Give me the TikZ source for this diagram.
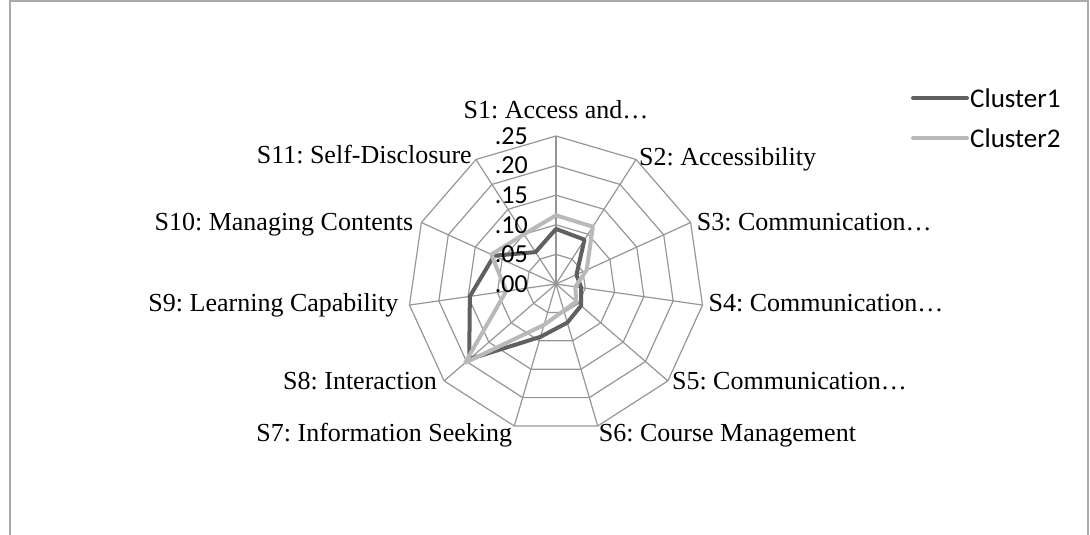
\documentclass[tikz,border=0pt]{standalone}
\usepackage{fontspec}
\setmainfont{Liberation Serif}
\newfontfamily\calibri{Carlito}
\usetikzlibrary{positioning}
\frenchspacing
\definecolor{gridGrey}{RGB}{150,150,150}
\definecolor{frameGrey}{RGB}{170,170,170}
\definecolor{darkClust}{RGB}{96,96,96}
\definecolor{lightClust}{RGB}{185,185,185}
\tikzstyle{gridLine} = [draw=gridGrey, line width=1.2pt]
\tikzstyle{tAxis} = [font=\fontsize{26}{30}\selectfont, inner sep=0pt, text height=17pt, text depth=5pt]
\tikzstyle{tTick} = [font=\calibri\fontsize{26}{30}\selectfont, inner sep=0pt, anchor=east]
\tikzstyle{tLegend} = [font=\calibri\fontsize{27}{31}\selectfont, inner sep=0pt, anchor=west]
\tikzstyle{clusterOne} = [draw=darkClust, line width=4pt, line join=round, line cap=round]
\tikzstyle{clusterTwo} = [draw=lightClust, line width=4pt, line join=round, line cap=round]

\begin{document}
\begin{tikzpicture}[x=1pt,y=-1pt]
    \useasboundingbox (0,0) rectangle (1090,535);
    \draw[draw=frameGrey, line width=1.5pt] (10,540) -- (10,1) -- (1088,1) -- (1088,540);
    \begin{scope}[shift={(556,284)}]
        % rings and spokes
        \foreach \r in {1,...,5}
            \draw[gridLine] ({-90}:{\r*29.6}) \foreach \k in {1,...,10} { -- ({-90+\k*360/11}:{\r*29.6}) } -- cycle;
        \coordinate (ctr) at (0,0);
        \foreach \k in {0,...,10} {
            \coordinate (v\k) at ({-90+\k*360/11}:148);
            \draw[gridLine] (ctr) -- (v\k);
        }
        % data
        \foreach \v [count=\k from 0] in {0.093,0.089,0.038,0.043,0.056,0.068,0.093,0.194,0.147,0.115,0.064}
            \coordinate (a\k) at ({-90+\k*360/11}:{\v*592});
        \foreach \v [count=\k from 0] in {0.116,0.115,0.057,0.033,0.045,0.047,0.072,0.203,0.085,0.120,0.100}
            \coordinate (b\k) at ({-90+\k*360/11}:{\v*592});
        \draw[clusterOne] (a0) \foreach \k in {1,...,10} { -- (a\k) } -- cycle;
        \draw[clusterTwo] (b0) \foreach \k in {1,...,10} { -- (b\k) } -- cycle;
        % tick labels
        \foreach \t [count=\i from 0] in {.00,.05,.10,.15,.20,.25}
            \node[tTick] (tick\i) at (-28,{-\i*29.6}) {\t};
    \end{scope}
    \node[tAxis, anchor=south, text depth=0pt] (lblS1) at ([yshift=17pt]v0) {S1: Access and…};
    \node[tAxis, anchor=west] (lblS2) at ([xshift=3pt]v1) {S2: Accessibility};
    \node[tAxis, anchor=west] (lblS3) at ([xshift=6pt,yshift=-2pt]v2) {S3: Communication…};
    \node[tAxis, anchor=west] (lblS4) at ([xshift=6pt]v3) {S4: Communication…};
    \node[tAxis, anchor=west] (lblS5) at ([xshift=4pt,yshift=-3pt]v4) {S5: Communication…};
    \node[tAxis, anchor=north west] (lblS6) at ([xshift=1pt,yshift=2pt]v5) {S6: Course Management};
    \node[tAxis, anchor=north east] (lblS7) at ([xshift=-2pt,yshift=2pt]v6) {S7: Information Seeking};
    \node[tAxis, anchor=east] (lblS8) at ([xshift=-7pt,yshift=-3pt]v7) {S8: Interaction};
    \node[tAxis, anchor=east] (lblS9) at ([xshift=-11pt]v8) {S9: Learning Capability};
    \node[tAxis, anchor=east] (lblS10) at ([xshift=-8pt,yshift=-2pt]v9) {S10: Managing Contents};
    \node[tAxis, anchor=east] (lblS11) at ([xshift=-4pt,yshift=2pt]v10) {S11: Self-Disclosure};
    % legend
    \node[tLegend] (legOne) at (970,98) {Cluster1};
    \node[tLegend] (legTwo) at (970,138) {Cluster2};
    \draw[clusterOne] ([xshift=-3pt]legOne.west) -- ++(-54,0);
    \draw[clusterTwo] ([xshift=-3pt]legTwo.west) -- ++(-54,0);
\end{tikzpicture}
\end{document}
